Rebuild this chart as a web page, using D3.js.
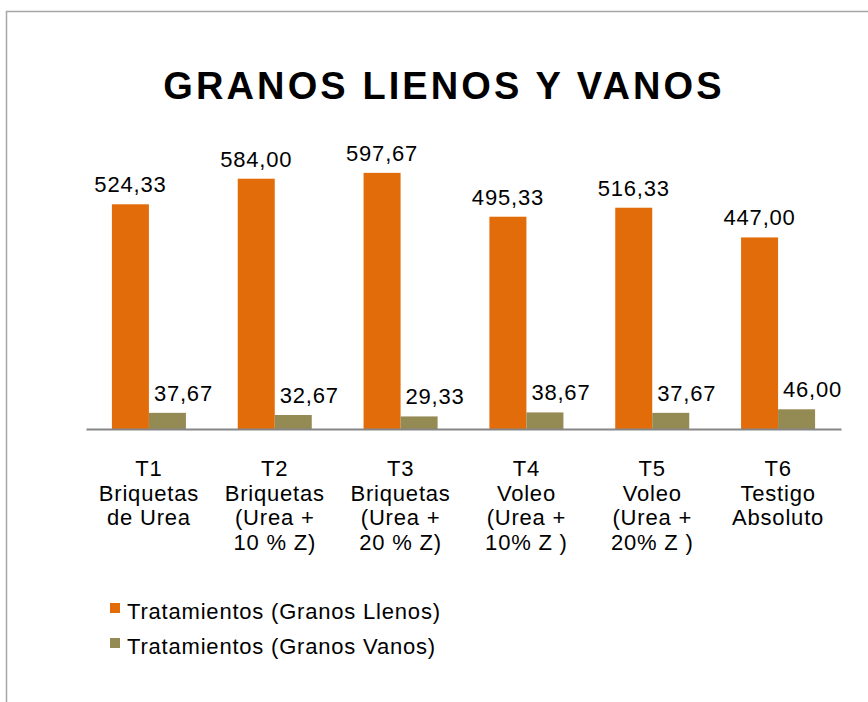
<!DOCTYPE html>
<html>
<head>
  <meta charset="utf-8">
  <title>Granos llenos y vanos</title>
  <style>
    body { margin: 0; background: #fff; }
    text { font-family: "Liberation Sans", Arial, sans-serif; fill: #000; }
    .lbl { font-size: 22px; letter-spacing: 0.8px; }
  </style>
</head>
<body>
  <svg width="868" height="702"></svg>
  <script src="https://d3js.org/d3.v7.min.js"></script>
  <script>
    // data
    const categories = ["T1", "T2", "T3", "T4", "T5", "T6"];
    const catLines = [
      ["T1", "Briquetas", "de Urea"],
      ["T2", "Briquetas", "(Urea +", "10 % Z)"],
      ["T3", "Briquetas", "(Urea +", "20 % Z)"],
      ["T4", "Voleo", "(Urea +", "10% Z )"],
      ["T5", "Voleo", "(Urea +", "20% Z )"],
      ["T6", "Testigo", "Absoluto"]
    ];
    const llenos = [524.33, 584.00, 597.67, 495.33, 516.33, 447.00];
    const vanos = [37.67, 32.67, 29.33, 38.67, 37.67, 46.00];
    const seriesNames = ["Tratamientos (Granos Llenos)", "Tratamientos (Granos Vanos)"];
    const colors = ["#E36C0A", "#948A54"];

    const series = [llenos, vanos];

    const svg = d3.select("svg");

    // outer frame (only top and left edges visible)
    svg.append("path")
      .attr("d", "M6.5,702 V11.5 H868")
      .attr("fill", "none")
      .attr("stroke", "#a6a6a6")
      .attr("stroke-width", 1.5);

    // title
    svg.append("text")
      .attr("x", 444)
      .attr("y", 99)
      .attr("text-anchor", "middle")
      .style("font-size", "38px")
      .style("font-weight", "bold")
      .style("letter-spacing", "3.1px")
      .text("GRANOS LIENOS Y VANOS");

    const x0 = d3.scaleBand().domain(categories).range([86, 841]).padding(0);
    const x1 = d3.scaleBand().domain([0, 1]).range([0, x0.bandwidth()])
      .paddingInner(0).paddingOuter(0.7);
    const y = d3.scaleLinear().domain([0, 700]).range([429, 129]);

    const fmt = v => d3.format(".2f")(v).replace(".", ",");

    // bars
    series.forEach(function(vals, s) {
      svg.append("g").selectAll("rect")
        .data(vals)
        .enter()
        .append("rect")
        .attr("x", (d, i) => x0(categories[i]) + x1(s))
        .attr("y", d => y(d))
        .attr("width", x1.bandwidth())
        .attr("height", d => y(0) - y(d))
        .attr("fill", colors[s]);

      // value labels
      svg.append("g").selectAll("text")
        .data(vals)
        .enter()
        .append("text")
        .attr("class", "lbl")
        .attr("text-anchor", "middle")
        .attr("x", (d, i) => x0(categories[i]) + x1(s) + x1.bandwidth() / 2 + (s === 1 ? 16 : 0))
        .attr("y", d => y(d) - 12)
        .text(d => fmt(d));
    });

    // category axis
    const axis = svg.append("g")
      .attr("transform", "translate(0," + y(0) + ")")
      .call(d3.axisBottom(x0).tickSize(0).tickFormat(""));
    axis.select(".domain")
      .attr("stroke", "#868686")
      .attr("stroke-width", 2);

    // multi-line category labels
    const catText = svg.append("g").selectAll("text")
      .data(categories)
      .enter()
      .append("text")
      .attr("class", "lbl")
      .attr("text-anchor", "middle")
      .attr("x", d => x0(d) + x0.bandwidth() / 2)
      .attr("y", 476);
    catText.each(function(d, i) {
      const t = d3.select(this);
      catLines[i].forEach(function(line, j) {
        t.append("tspan")
          .attr("x", x0(d) + x0.bandwidth() / 2)
          .attr("dy", j === 0 ? 0 : 24.5)
          .text(line);
      });
    });

    // legend
    const legend = svg.append("g").selectAll("g")
      .data(seriesNames)
      .enter()
      .append("g")
      .attr("transform", (d, i) => "translate(110," + (603 + i * 35) + ")");
    legend.append("rect")
      .attr("width", 10)
      .attr("height", 10)
      .attr("fill", (d, i) => colors[i]);
    legend.append("text")
      .attr("class", "lbl")
      .attr("x", 17)
      .attr("y", 16)
      .text(d => d);
  </script>
</body>
</html>
